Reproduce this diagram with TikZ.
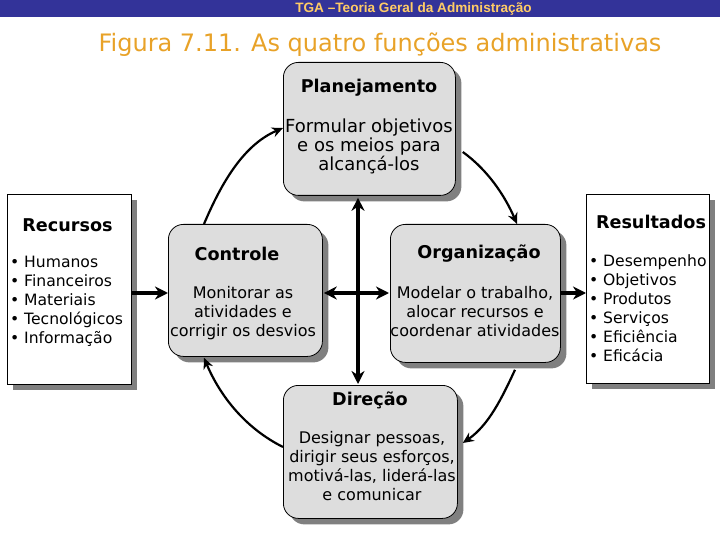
\documentclass[tikz,border=0pt]{standalone}
\usepackage{fontspec}
\setmainfont{DejaVu Sans}
\newfontfamily\bannerfont{Liberation Sans}
\usetikzlibrary{arrows.meta,shadows}
\definecolor{bannerblue}{RGB}{51,51,153}
\definecolor{bannertext}{RGB}{255,204,102}
\definecolor{titleorange}{RGB}{232,162,40}
\definecolor{boxfill}{RGB}{221,221,221}
\definecolor{shadowgray}{RGB}{128,128,128}
\tikzset{
  fnbox/.style={draw=black, line width=0.8pt, fill=boxfill, rounded corners=15pt, anchor=north west,
    inner sep=0pt, drop shadow={shadow xshift=6pt, shadow yshift=-6pt, fill=shadowgray, opacity=1}},
  listbox/.style={draw=black, line width=0.8pt, fill=white, anchor=north west, inner sep=0pt,
    drop shadow={shadow xshift=6pt, shadow yshift=-6pt, fill=shadowgray, opacity=1}},
  boxtitle/.style={font=\fontsize{17.6}{19}\selectfont\bfseries, inner sep=0pt},
  boxbody/.style={font=\fontsize{16}{19}\selectfont, align=center, inner sep=0pt, anchor=north},
  bigbody/.style={font=\fontsize{18}{19}\selectfont, align=center, inner sep=0pt, anchor=north},
  listtext/.style={font=\fontsize{15.6}{19}\selectfont, align=left, inner sep=0pt, anchor=north west},
  thickarrow/.style={line width=3.5pt, -{Stealth[length=13pt,width=13pt]}},
  thickdouble/.style={line width=3.5pt, {Stealth[length=13pt,width=13pt]}-{Stealth[length=13pt,width=13pt]}},
  arcarrow/.style={line width=2.2pt, -{Stealth[length=11pt,width=10pt]}},
}
\newcommand{\bul}{\makebox[14pt][l]{•}}
\begin{document}
\begin{tikzpicture}[x=1pt,y=-1pt]
\useasboundingbox (0,0) rectangle (720,540);
% banner
\fill[bannerblue] (0,0) rectangle (720,17);
\node[text=bannertext, font=\bannerfont\fontsize{13.6}{15}\selectfont\bfseries, inner sep=0pt] (banner) at (413.5,8.5) {TGA –Teoria Geral da Administração};
\node[text=titleorange, font=\fontsize{24}{28}\selectfont, inner sep=0pt] (title) at (380,45) {Figura 7.11. As quatro funções administrativas};

% boxes
\node[fnbox, minimum width=172pt, minimum height=133pt] (plan) at (283,62) {};
\node[fnbox, minimum width=154pt, minimum height=132pt] (ctrl) at (168,224) {};
\node[fnbox, minimum width=170pt, minimum height=138pt] (org) at (390,224) {};
\node[fnbox, minimum width=174pt, minimum height=133pt] (dir) at (283,385) {};
\node[listbox, minimum width=124pt, minimum height=190pt] (rec) at (7,194) {};
\node[listbox, minimum width=123pt, minimum height=189pt] (res) at (586,194) {};

% texts
\node[boxtitle] (planT) at (369,88) {Planejamento};
\node[bigbody] (planB) at (369,119) {Formular objetivos\\e os meios para\\alcançá-los};
\node[boxtitle] (ctrlT) at (237,254) {Controle};
\node[boxbody] (ctrlB) at (243,286) {Monitorar as\\atividades e\\corrigir os desvios};
\node[boxtitle] (orgT) at (479,254) {Organização};
\node[boxbody] (orgB) at (475,286) {Modelar o trabalho,\\alocar recursos e\\coordenar atividades};
\node[boxtitle] (dirT) at (370,400) {Direção};
\node[boxbody] (dirB) at (372,431) {Designar pessoas,\\dirigir seus esforços,\\motivá-las, liderá-las\\e comunicar};
\node[boxtitle] (recT) at (67.5,225) {Recursos};
\node[listtext] (recL) at (10,256) {\bul Humanos\\\bul Financeiros\\\bul Materiais\\\bul Tecnológicos\\\bul Informação};
\node[boxtitle] (resT) at (651,222) {Resultados};
\node[listtext] (resL) at (589,254) {\bul Desempenho\\\bul Objetivos\\\bul Produtos\\\bul Serviços\\\bul Eficiência\\\bul Eficácia};

% straight arrows
\draw[thickarrow] (rec.east |- 0,293) -- (ctrl.west |- 0,293);
\draw[thickarrow] (org.east |- 0,293) -- (res.west |- 0,293);
\draw[thickdouble] ([yshift=-2pt]plan.south -| 358,0) -- ([yshift=1pt]dir.north -| 358,0);
\draw[thickdouble] ([xshift=1pt]ctrl.east |- 0,293) -- ([xshift=-1pt]org.west |- 0,293);

% arcs
\draw[arcarrow] ([xshift=36pt]ctrl.north west) .. controls +(17,-40) and +(-40,17) .. ([yshift=-66pt]plan.north west);
\draw[arcarrow] ([xshift=7pt,yshift=-90pt]plan.north east) .. controls +(25,18) and +(-12,-28) .. ([xshift=127pt]org.north west);
\draw[arcarrow] ([xshift=125pt,yshift=-7pt]org.south west) .. controls +(-13,28) and +(26,-18) .. ([xshift=5pt,yshift=-58pt]dir.north east);
\draw[arcarrow] ([yshift=-62pt]dir.north west) .. controls +(-38,-19) and +(16,38) .. ([xshift=36pt,yshift=-1pt]ctrl.south west);
\end{tikzpicture}
\end{document}
